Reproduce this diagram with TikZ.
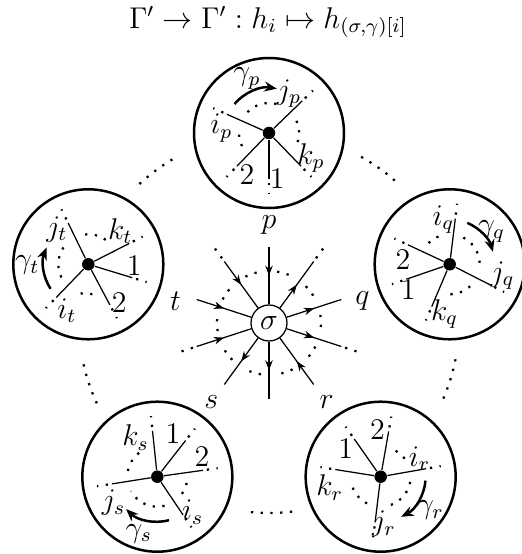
\documentclass[tikz,border=0pt]{standalone}
\usepackage{amsmath}
\usepackage{tikz}
\usetikzlibrary{arrows.meta,calc,decorations.markings}

\begin{document}
\begin{tikzpicture}[
  x=0.4pt, y=0.4pt,
  font=\large,
  vertex/.style={circle, draw, line width=1pt, minimum size=60pt, inner sep=0pt},
  hub/.style={circle, fill, inner sep=0pt, minimum size=5pt},
  perm/.style={circle, draw, line width=0.5pt, minimum size=14.4pt, inner sep=0pt},
  ray/.style={line width=0.5pt},
  dotline/.style={line width=0.9pt, dash pattern=on 0.9pt off 3pt},
  gam/.style={line width=1pt, -{Stealth[length=5pt, width=4pt]}},
  lab/.style={inner sep=1pt},
  outflow/.style={ray, postaction={decorate}, decoration={markings,
    mark=at position 0.5 with {\arrow{Stealth[length=4pt, width=3pt]}}}},
  inflow/.style={ray, postaction={decorate}, decoration={markings,
    mark=at position 0.5 with {\arrowreversed{Stealth[length=4pt, width=3pt]}}}}
]
\useasboundingbox (0,0) rectangle (521,554);

\node (title) at (268,532) {$\Gamma'\to\Gamma' : h_i\mapsto h_{(\sigma,\gamma)[i]}$};

% the permutation in the middle
\node[perm] (sigma) at (269,231) {$\sigma$};
\foreach \a/\f [count=\n] in {90/inflow, 54/outflow, 18/outflow, -18/outflow, -54/inflow,
    -90/outflow, -126/outflow, -162/inflow, 162/inflow, 126/inflow}{
  \coordinate (e\n) at ($(sigma)+(\a:76)$);
  \draw[\f] (sigma) -- (e\n);
}
\foreach \a in {54,-18,-162,126}
  \draw[dotline] ($(sigma)+(\a:80)$) -- ($(sigma)+(\a:93)$);
\foreach \m in {0,36,...,324}
  \draw[dotline] ($(sigma)+(\m+9:52)$) arc[start angle=\m+9, end angle=\m-9, radius=52];

\node (lab-p) at ($(sigma)+(90:98)$) {$p$};
\node (lab-q) at ($(sigma)+(13:96)$) {$q$};
\node (lab-r) at ($(sigma)+(-54:98)$) {$r$};
\node (lab-s) at ($(sigma)+(-126:98)$) {$s$};
\node (lab-t) at ($(sigma)+(167:96)$) {$t$};

% the five vertices
\foreach \c/\a in {p/90, q/18, r/-54, s/-126, t/162}{
  \node[vertex] (\c) at ($(sigma)+(\a:190)$) {};
  \node[hub] (h\c) at (\c) {};
}
\foreach \m in {126,54,-18,-90,-162}
  \draw[dotline] ($(sigma)+(\m+7:190)$) arc[start angle=\m+7, end angle=\m-7, radius=190];

% half-edges at each vertex
\foreach \c/\a/\b/\r/\t [count=\n] in {
    p/156/174/48/i_p, p/44/63/44/j_p, p/-46/-31/49/k_p, p/-90/-80/47/1, p/-134/-118/47/2,
    t/-134/-115/51/i_t, t/116/132/47/j_t, t/27/46/46/k_t, t/-17/-2/46/1, t/-62/-51/49/2,
    q/83/98/45/i_q, q/-27/-12/54/j_q, q/-113/-96/50/k_q, q/-161/-148/49/1, q/155/174/47/2,
    r/10/25/43/i_r, r/-97/-86/47/j_r, r/171/192/52/k_r, r/125/141/45/1, r/80/94/47/2,
    s/-56/-45/50/i_s, s/-171/-149/51/j_s, s/96/119/45/k_s, s/52/70/46/1, s/8/24/49/2}{
  \coordinate (he\n) at ($(\c)+(\a:46)$);
  \draw[ray] (h\c) -- (he\n);
  \draw[dotline] ($(\c)+(\a:50)$) -- ($(\c)+(\a:61)$);
  \node[lab] (hl\n) at ($(\c)+(\b:\r)$) {$\t$};
}
\foreach \c/\s/\e in {p/136/64, p/24/-26, p/-154/-184,
    t/-154/-224, t/96/47, t/-82/-114,
    q/63/-7, q/-47/-93, q/135/103,
    r/-10/-77, r/-117/-169, r/60/30,
    s/-76/-151, s/-191/-244, s/-12/-36}
  \draw[dotline] ($(\c)+(\s:30)$) arc[start angle=\s, end angle=\e, radius=30];

% the rotations gamma
\foreach \c/\s/\e/\la/\lr in {p/140/80/112/59, t/213/158/181/61, q/67/16/38/53,
    r/-5/-63/-34/60, s/-75/-134/-108/60}{
  \draw[gam] ($(\c)+(\s:45)$) arc[start angle=\s, end angle=\e, radius=45];
  \node[lab] (g\c) at ($(\c)+(\la:\lr)$) {$\gamma_\c$};
}
\end{tikzpicture}
\end{document}
